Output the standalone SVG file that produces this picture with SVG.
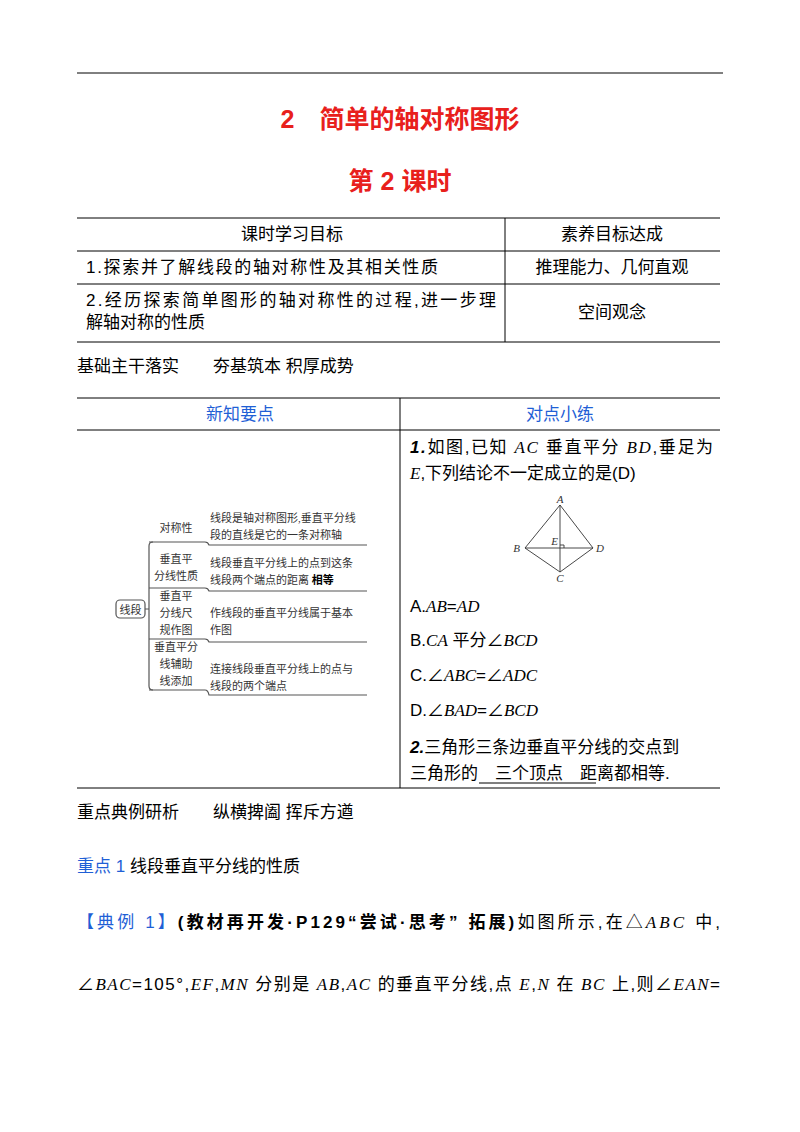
<svg xmlns="http://www.w3.org/2000/svg" width="800" height="1132" viewBox="0 0 800 1132">
<style>
text{font-family:"Liberation Sans","Noto Sans CJK SC",sans-serif;fill:#000}
.b{font-size:17px}
.it{font-family:"Liberation Serif","Noto Sans CJK SC",serif;font-style:italic}
.s{font-family:"Liberation Serif","Noto Sans CJK SC",serif;font-size:11px;fill:#333}
.ln{stroke:#000;stroke-width:1;fill:none}
.g{stroke:#555;stroke-width:1.2;fill:none}
.blue{fill:#1f5fd6}
.red{fill:#e8201c;font-weight:bold}
</style>
<rect width="800" height="1132" fill="#fff"/>
<line x1="77" y1="73" x2="723" y2="73" class="ln" stroke-width="1.5"/>
<text x="400" y="128" class="red" font-size="25" text-anchor="middle">2　简单的轴对称图形</text>
<text x="400" y="190" class="red" font-size="25" text-anchor="middle">第 2 课时</text>
<g id="table1">
<path class="ln" d="M77 218H720M77 251H720M77 284H720M77 342H720M505 218V342"/>
<text x="292" y="240" class="b" text-anchor="middle">课时学习目标</text>
<text x="612" y="240" class="b" text-anchor="middle">素养目标达成</text>
<text x="86" y="273" class="b" textLength="352" lengthAdjust="spacing">1.探索并了解线段的轴对称性及其相关性质</text>
<text x="612" y="273" class="b" text-anchor="middle">推理能力、几何直观</text>
<text x="86" y="306" class="b" textLength="410" lengthAdjust="spacing">2.经历探索简单图形的轴对称性的过程,进一步理</text>
<text x="86" y="328" class="b">解轴对称的性质</text>
<text x="612" y="318" class="b" text-anchor="middle">空间观念</text>
</g>
<text x="77" y="372" class="b">基础主干落实　　夯基筑本 积厚成势</text>
<g id="table2">
<path class="ln" d="M77 398H720M77 430H720M77 788H720M400 398V788"/>
<text x="240" y="420" class="b blue" text-anchor="middle">新知要点</text>
<text x="560" y="420" class="b blue" text-anchor="middle">对点小练</text>
</g>
<g id="mindmap">
<rect x="116" y="600" width="29" height="18" rx="4" class="g"/>
<text x="130.5" y="614" class="s" text-anchor="middle">线段</text>
<path class="g" d="M145 609H149M153 542Q149 542 149 546V686Q149 690 153 690"/>
<path class="g" d="M149 542H205Q208 542 209 545H367M149 588H205Q208 588 209 591H367M149 639H205Q208 639 209 642H367M149 690H205Q208 690 209 695H367"/>
<text x="176" y="532" class="s" text-anchor="middle">对称性</text>
<text x="176" y="563" class="s" text-anchor="middle">垂直平</text>
<text x="176" y="580" class="s" text-anchor="middle">分线性质</text>
<text x="176" y="600" class="s" text-anchor="middle">垂直平</text>
<text x="176" y="617" class="s" text-anchor="middle">分线尺</text>
<text x="176" y="634" class="s" text-anchor="middle">规作图</text>
<text x="176" y="651" class="s" text-anchor="middle">垂直平分</text>
<text x="176" y="668" class="s" text-anchor="middle">线辅助</text>
<text x="176" y="685" class="s" text-anchor="middle">线添加</text>
<text x="210" y="522" class="s">线段是轴对称图形,垂直平分线</text>
<text x="210" y="539" class="s">段的直线是它的一条对称轴</text>
<text x="210" y="567" class="s">线段垂直平分线上的点到这条</text>
<text x="210" y="584" class="s">线段两个端点的距离 <tspan font-weight="bold" fill="#000">相等</tspan></text>
<text x="210" y="617" class="s">作线段的垂直平分线属于基本</text>
<text x="210" y="634" class="s">作图</text>
<text x="210" y="673" class="s">连接线段垂直平分线上的点与</text>
<text x="210" y="690" class="s">线段的两个端点</text>
</g>
<text x="410" y="453" class="b" textLength="303" lengthAdjust="spacing"><tspan font-weight="bold" font-style="italic">1.</tspan>如图,已知 <tspan class="it">AC</tspan> 垂直平分 <tspan class="it">BD</tspan>,垂足为</text>
<text x="410" y="479" class="b"><tspan class="it">E</tspan>,下列结论不一定成立的是(D)</text>
<g id="figure">
<path d="M560 505L525 548L560 572L593 548ZM560 505V572M525 548H593M560 545H564V548" stroke="#333" stroke-width="0.9" fill="none"/>
<text x="560" y="503" class="s it" text-anchor="middle" font-size="9">A</text>
<text x="520" y="552" class="s it" text-anchor="end" font-size="9">B</text>
<text x="558" y="545" class="s it" text-anchor="end" font-size="9">E</text>
<text x="596" y="552" class="s it" font-size="9">D</text>
<text x="560" y="582" class="s it" text-anchor="middle" font-size="9">C</text>
</g>
<text x="410" y="612" class="b">A.<tspan class="it">AB</tspan>=<tspan class="it">AD</tspan></text>
<text x="410" y="646" class="b">B.<tspan class="it">CA</tspan> 平分∠<tspan class="it">BCD</tspan></text>
<text x="410" y="681" class="b">C.∠<tspan class="it">ABC</tspan>=∠<tspan class="it">ADC</tspan></text>
<text x="410" y="716" class="b">D.∠<tspan class="it">BAD</tspan>=∠<tspan class="it">BCD</tspan></text>
<text x="410" y="753" class="b"><tspan font-weight="bold" font-style="italic">2.</tspan>三角形三条边垂直平分线的交点到</text>
<text x="410" y="779" class="b">三角形的　三个顶点　距离都相等.</text>
<line x1="479" y1="783" x2="596" y2="783" class="ln"/>
<text x="77" y="818" class="b">重点典例研析　　纵横捭阖 挥斥方遒</text>
<text x="77" y="872" class="b"><tspan class="blue">重点 1 </tspan>线段垂直平分线的性质</text>
<text x="77" y="928" class="b" textLength="643" lengthAdjust="spacing"><tspan class="blue">【典例 1】</tspan><tspan font-weight="bold">(教材再开发·P129“尝试·思考” 拓展)</tspan>如图所示,在△<tspan class="it">ABC</tspan> 中,</text>
<text x="77" y="990" class="b" textLength="643" lengthAdjust="spacing">∠<tspan class="it">BAC</tspan>=105°,<tspan class="it">EF</tspan>,<tspan class="it">MN</tspan> 分别是 <tspan class="it">AB</tspan>,<tspan class="it">AC</tspan> 的垂直平分线,点 <tspan class="it">E</tspan>,<tspan class="it">N</tspan> 在 <tspan class="it">BC</tspan> 上,则∠<tspan class="it">EAN</tspan>=</text>
</svg>
